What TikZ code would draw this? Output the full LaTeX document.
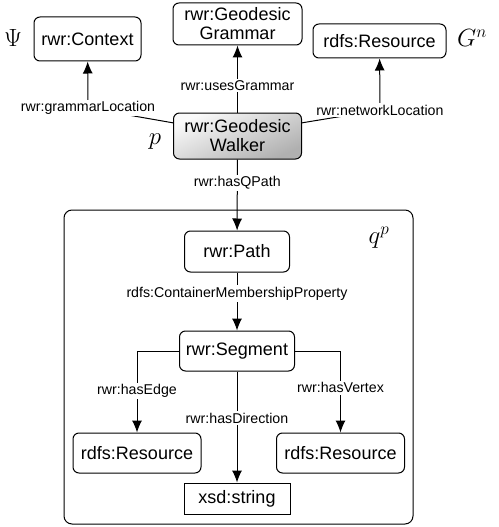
\documentclass[tikz,border=0pt]{standalone}
\usepackage{fontspec}
\setmainfont{Liberation Sans}
\usetikzlibrary{calc,arrows.meta}

\tikzset{
	cls/.style={draw, line width=1pt, rounded corners=6pt, align=center,
		font=\fontsize{18}{19}\selectfont, inner sep=0pt},
	lit/.style={draw, line width=1pt, align=center,
		font=\fontsize{18}{19}\selectfont, inner sep=0pt},
	prop/.style={fill=white, font=\fontsize{14.2}{16}\selectfont, inner sep=1.5pt},
	rel/.style={line width=1pt, -{Latex[length=12pt,width=10pt]}},
	mlbl/.style={font=\fontsize{25}{30}\selectfont, inner sep=0pt}
}

\begin{document}
\begin{tikzpicture}[x=1pt,y=-1pt]
				\useasboundingbox (0,0) rectangle (498,527);
				\coordinate (glc) at (88,108);
				\coordinate (nlc) at (380,110);
				\coordinate (qtl) at (64,210);
				\coordinate (qbr) at (413,524);
				
				% outer box of the path
				\draw[line width=1pt, rounded corners=8pt] (qtl) rectangle (qbr);
				
				\node[cls, minimum width=107pt, minimum height=44pt] (ctx) at (87.5,39) {rwr:Context};
				\node[cls, minimum width=129pt, minimum height=42pt] (gram) at (237.5,24) {rwr:Geodesic\\Grammar};
				\node[cls, minimum width=133pt, minimum height=34pt] (net) at (379.5,41) {rdfs:Resource};
				\node[cls, minimum width=128pt, minimum height=46pt, top color=gray!4, bottom color=gray!62, shading angle=25]
					(walker) at (237.5,136) {rwr:Geodesic\\Walker};
				\node[cls, minimum width=105pt, minimum height=41pt] (path) at (237,251.5) {rwr:Path};
				\node[cls, minimum width=115pt, minimum height=40pt] (seg) at (237,351) {rwr:Segment};
				\node[cls, minimum width=128pt, minimum height=40pt] (edge) at (137,453) {rdfs:Resource};
				\node[cls, minimum width=128pt, minimum height=40pt] (vert) at (340.5,453) {rdfs:Resource};
				\node[lit, minimum width=106pt, minimum height=31pt] (str) at (237,498.5) {xsd:string};
				
				\node[mlbl] (psi) at (13,38) {$\Psi$};
				\node[mlbl] (gn) at (472,38) {$G^n$};
				\node[mlbl] (pw) at (155,142) {$p$};
				\node[mlbl] (qp) at (379,238) {$q^p$};
				
				\draw[rel] ($(walker.north west)!0.22!(walker.south west)$) -- (glc) -- (ctx);
				\node[prop] (glcl) at (glc) {rwr:grammarLocation};
				\draw[rel] ($(walker.north east)!0.22!(walker.south east)$) -- (nlc) -- (net);
				\node[prop] (nlcl) at (nlc) {rwr:networkLocation};
				
				\draw[rel] (walker) -- node[prop, pos=0.4] {rwr:usesGrammar} (gram);
				\draw[rel] (walker) -- node[prop, pos=0.33] {rwr:hasQPath} (path);
				\draw[rel] (path) -- node[prop, pos=0.36] {rdfs:ContainerMembershipProperty} (seg);
				\draw[rel] (seg) -- node[prop, pos=0.42] {rwr:hasDirection} (str);
				\draw[rel] (seg.west) -| node[prop, pos=0.744] {rwr:hasEdge} (edge.north);
				\draw[rel] (seg.east) -| node[prop, pos=0.726] {rwr:hasVertex} (vert.north);
			\end{tikzpicture}
\end{document}
